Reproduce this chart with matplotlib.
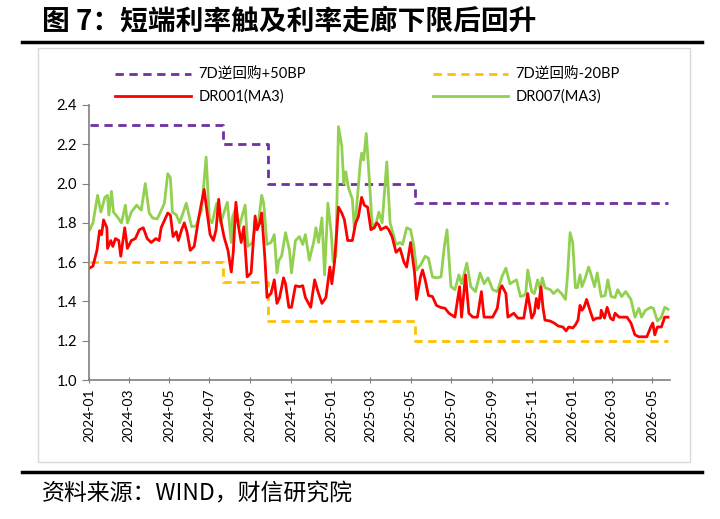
import matplotlib
matplotlib.use("Agg")
import matplotlib.pyplot as plt
import matplotlib.dates as mdates
from matplotlib.lines import Line2D
from matplotlib.patches import Rectangle
import pandas as pd

plt.rcParams['font.family'] = ['Lato', 'Noto Sans CJK SC', 'DejaVu Sans']

# policy corridor (7D reverse repo +50BP / -20BP), change dates
STEP_DATES = ["2024-01-02", "2024-07-22", "2024-09-27", "2025-05-08", "2026-05-25"]
UPPER = [2.30, 2.20, 2.00, 1.90, 1.90]
LOWER = [1.60, 1.50, 1.30, 1.20, 1.20]

# DR007 (MA3)
DR007_DATES = [
    "2024-01-02", "2024-01-07", "2024-01-14", "2024-01-19", "2024-01-25", "2024-01-29", "2024-01-31",
    "2024-02-04", "2024-02-07", "2024-02-13", "2024-02-19", "2024-02-25", "2024-02-28",
    "2024-03-05", "2024-03-13", "2024-03-17", "2024-03-20", "2024-03-26", "2024-04-01",
    "2024-04-06", "2024-04-13", "2024-04-18", "2024-04-24", "2024-04-29", "2024-05-03",
    "2024-05-06", "2024-05-12", "2024-05-17", "2024-05-20", "2024-05-27", "2024-05-30",
    "2024-06-04", "2024-06-11", "2024-06-19", "2024-06-26", "2024-07-01", "2024-07-05",
    "2024-07-12", "2024-07-18", "2024-07-28", "2024-08-03", "2024-08-05", "2024-08-10",
    "2024-08-15", "2024-08-19", "2024-08-24", "2024-08-28", "2024-09-04", "2024-09-09",
    "2024-09-12", "2024-09-18", "2024-09-21", "2024-09-26", "2024-10-02", "2024-10-07",
    "2024-10-11", "2024-10-14", "2024-10-18", "2024-10-24", "2024-10-30", "2024-11-02",
    "2024-11-08", "2024-11-14", "2024-11-19", "2024-11-23", "2024-11-29", "2024-12-06",
    "2024-12-09", "2024-12-13", "2024-12-18", "2024-12-22", "2024-12-27", "2025-01-01",
    "2025-01-04", "2025-01-08", "2025-01-12", "2025-01-17", "2025-01-20", "2025-01-23",
    "2025-01-27", "2025-02-02", "2025-02-05", "2025-02-08", "2025-02-14", "2025-02-16",
    "2025-02-19", "2025-02-23", "2025-03-01", "2025-03-04", "2025-03-10", "2025-03-14",
    "2025-03-19", "2025-03-26", "2025-03-31", "2025-04-03", "2025-04-09", "2025-04-15",
    "2025-04-19", "2025-04-25", "2025-05-01", "2025-05-06", "2025-05-10", "2025-05-16",
    "2025-05-23", "2025-05-28", "2025-06-03", "2025-06-09", "2025-06-16", "2025-06-21",
    "2025-06-25", "2025-07-01", "2025-07-07", "2025-07-13", "2025-07-17", "2025-07-25",
    "2025-07-31", "2025-08-07", "2025-08-14", "2025-08-20", "2025-08-26", "2025-09-02",
    "2025-09-09", "2025-09-16", "2025-09-22", "2025-09-28", "2025-10-08", "2025-10-14",
    "2025-10-19", "2025-10-22", "2025-10-25", "2025-10-31", "2025-11-04", "2025-11-09",
    "2025-11-13", "2025-11-16", "2025-11-20", "2025-11-28", "2025-12-03", "2025-12-09",
    "2025-12-15", "2025-12-21", "2025-12-24", "2025-12-28", "2026-01-01", "2026-01-05",
    "2026-01-08", "2026-01-12", "2026-01-15", "2026-01-19", "2026-01-25", "2026-01-28",
    "2026-02-03", "2026-02-07", "2026-02-13", "2026-02-19", "2026-02-23", "2026-02-28",
    "2026-03-06", "2026-03-10", "2026-03-16", "2026-03-22", "2026-03-30", "2026-04-05",
    "2026-04-11", "2026-04-15", "2026-04-21", "2026-04-29", "2026-05-03", "2026-05-09",
    "2026-05-15", "2026-05-20", "2026-05-25",
]
DR007 = [
    1.764, 1.80, 1.94, 1.855, 1.93, 1.94, 1.84,
    1.96, 1.855, 1.83, 1.80, 1.89, 1.80,
    1.855, 1.89, 1.875, 1.865, 2.00, 1.85,
    1.825, 1.82, 1.855, 1.90, 2.05, 2.03,
    1.855, 1.84, 1.80, 1.83, 1.90, 1.855,
    1.78, 1.785, 1.865, 2.135, 1.815, 1.80,
    1.90, 1.80, 1.905, 1.70, 1.83, 1.88,
    1.78, 1.83, 1.89, 1.68, 1.70, 1.80,
    1.775, 1.94, 1.90, 1.69, 1.70, 1.74,
    1.545, 1.61, 1.63, 1.75, 1.66, 1.545,
    1.71, 1.73, 1.69, 1.74, 1.61, 1.71,
    1.775, 1.70, 1.825, 1.535, 1.90, 1.75,
    1.60, 1.63, 2.29, 2.19, 2.00, 2.06,
    1.98, 1.92, 1.765, 1.865, 2.105, 2.155,
    2.12, 2.255, 1.95, 1.78, 1.80, 1.855,
    1.80, 2.11, 1.80, 1.765, 1.69, 1.70,
    1.69, 1.775, 1.765, 1.68, 1.56, 1.585,
    1.63, 1.62, 1.525, 1.52, 1.525, 1.68,
    1.765, 1.475, 1.46, 1.535, 1.49, 1.595,
    1.475, 1.45, 1.545, 1.49, 1.52, 1.46,
    1.45, 1.525, 1.57, 1.49, 1.51, 1.425,
    1.43, 1.44, 1.56, 1.45, 1.44, 1.51,
    1.46, 1.52, 1.47, 1.46, 1.44, 1.46,
    1.44, 1.41, 1.525, 1.75, 1.70, 1.47,
    1.47, 1.535, 1.475, 1.51, 1.575, 1.545,
    1.475, 1.545, 1.425, 1.43, 1.51, 1.425,
    1.42, 1.46, 1.425, 1.45, 1.41, 1.32,
    1.365, 1.32, 1.355, 1.37, 1.365, 1.30,
    1.32, 1.37, 1.36,
]

# DR001 (MA3)
DR001_DATES = [
    "2024-01-02", "2024-01-07", "2024-01-13", "2024-01-17", "2024-01-20", "2024-01-23", "2024-01-28",
    "2024-01-29", "2024-02-03", "2024-02-06", "2024-02-10", "2024-02-15", "2024-02-18",
    "2024-02-24", "2024-02-28", "2024-03-05", "2024-03-11", "2024-03-17", "2024-03-23",
    "2024-03-29", "2024-04-04", "2024-04-11", "2024-04-16", "2024-04-19", "2024-04-29",
    "2024-05-03", "2024-05-07", "2024-05-12", "2024-05-15", "2024-05-20", "2024-05-24",
    "2024-05-28", "2024-06-02", "2024-06-08", "2024-06-15", "2024-06-23", "2024-06-27",
    "2024-07-02", "2024-07-07", "2024-07-11", "2024-07-15", "2024-07-18", "2024-07-23",
    "2024-07-29", "2024-08-03", "2024-08-06", "2024-08-10", "2024-08-13", "2024-08-18",
    "2024-08-22", "2024-08-27", "2024-09-02", "2024-09-08", "2024-09-11", "2024-09-15",
    "2024-09-18", "2024-09-23", "2024-09-26", "2024-10-02", "2024-10-07", "2024-10-11",
    "2024-10-15", "2024-10-21", "2024-10-24", "2024-10-29", "2024-11-02", "2024-11-08",
    "2024-11-14", "2024-11-19", "2024-11-23", "2024-12-01", "2024-12-07", "2024-12-12",
    "2024-12-18", "2024-12-24", "2024-12-30", "2025-01-02", "2025-01-06", "2025-01-12",
    "2025-01-17", "2025-01-21", "2025-01-26", "2025-02-02", "2025-02-07", "2025-02-11",
    "2025-02-16", "2025-02-20", "2025-02-25", "2025-03-02", "2025-03-07", "2025-03-11",
    "2025-03-14", "2025-03-17", "2025-03-25", "2025-03-29", "2025-04-03", "2025-04-09",
    "2025-04-15", "2025-04-21", "2025-04-25", "2025-05-01", "2025-05-07", "2025-05-10",
    "2025-05-16", "2025-05-19", "2025-05-23", "2025-05-28", "2025-06-03", "2025-06-09",
    "2025-06-15", "2025-06-22", "2025-06-28", "2025-07-07", "2025-07-14", "2025-07-17",
    "2025-07-23", "2025-07-28", "2025-08-03", "2025-08-10", "2025-08-16", "2025-08-20",
    "2025-08-26", "2025-09-02", "2025-09-09", "2025-09-13", "2025-09-16", "2025-09-22",
    "2025-09-25", "2025-10-04", "2025-10-10", "2025-10-19", "2025-10-25", "2025-10-31",
    "2025-11-04", "2025-11-07", "2025-11-10", "2025-11-14", "2025-11-17", "2025-11-20",
    "2025-11-28", "2025-12-04", "2025-12-10", "2025-12-17", "2025-12-22", "2025-12-26",
    "2026-01-01", "2026-01-05", "2026-01-09", "2026-01-12", "2026-01-15", "2026-01-18",
    "2026-01-22", "2026-01-27", "2026-02-01", "2026-02-06", "2026-02-12", "2026-02-13",
    "2026-02-18", "2026-02-22", "2026-02-27", "2026-03-03", "2026-03-06", "2026-03-12",
    "2026-03-18", "2026-03-24", "2026-03-30", "2026-04-05", "2026-04-11", "2026-04-17",
    "2026-04-23", "2026-04-29", "2026-05-02", "2026-05-05", "2026-05-09", "2026-05-15",
    "2026-05-20", "2026-05-25",
]
DR001 = [
    1.57, 1.58, 1.66, 1.76, 1.74, 1.815, 1.775,
    1.67, 1.71, 1.68, 1.72, 1.71, 1.63,
    1.775, 1.67, 1.71, 1.72, 1.765, 1.775,
    1.72, 1.70, 1.72, 1.71, 1.775, 1.85,
    1.84, 1.73, 1.755, 1.71, 1.765, 1.80,
    1.755, 1.66, 1.68, 1.83, 1.97, 1.865,
    1.74, 1.71, 1.765, 1.92, 1.815, 1.73,
    1.66, 1.55, 1.65, 1.905, 1.80, 1.70,
    1.78, 1.525, 1.545, 1.835, 1.765, 1.80,
    1.85, 1.61, 1.42, 1.44, 1.51, 1.39,
    1.42, 1.52, 1.49, 1.37, 1.37, 1.48,
    1.475, 1.48, 1.42, 1.37, 1.51, 1.45,
    1.39, 1.42, 1.575, 1.49, 1.60, 1.88,
    1.85, 1.815, 1.71, 1.71, 1.80, 1.83,
    1.93, 1.89, 1.88, 1.765, 1.775, 1.80,
    1.79, 1.765, 1.78, 1.765, 1.73, 1.65,
    1.67, 1.60, 1.575, 1.70, 1.545, 1.41,
    1.525, 1.56, 1.51, 1.43, 1.425, 1.38,
    1.37, 1.365, 1.34, 1.32, 1.475, 1.32,
    1.535, 1.34, 1.32, 1.32, 1.45, 1.32,
    1.32, 1.32, 1.365, 1.46, 1.48, 1.44,
    1.32, 1.34, 1.315, 1.315, 1.44, 1.315,
    1.34, 1.415, 1.365, 1.475, 1.37, 1.305,
    1.30, 1.29, 1.275, 1.27, 1.25, 1.27,
    1.265, 1.28, 1.305, 1.38, 1.355, 1.37,
    1.41, 1.355, 1.305, 1.315, 1.315, 1.355,
    1.315, 1.37, 1.315, 1.305, 1.34, 1.32,
    1.32, 1.32, 1.29, 1.23, 1.22, 1.22,
    1.22, 1.27, 1.29, 1.23, 1.27, 1.27,
    1.32, 1.32,
]

TITLE = "图 7：短端利率触及利率走廊下限后回升"
SOURCE = "资料来源：WIND，财信研究院"

fig = plt.figure(figsize=(7.2, 5.19), dpi=100)
ax = fig.add_axes([89 / 720, 1 - 380 / 519, 581 / 720, 275 / 519])

steps = pd.to_datetime(STEP_DATES)
l_up, = ax.plot(steps, UPPER, drawstyle="steps-post", color="#7030A0", lw=2, ls=(0, (3, 2)))
l_lo, = ax.plot(steps, LOWER, drawstyle="steps-post", color="#FFC000", lw=2, ls=(0, (3, 2)))
l_007, = ax.plot(pd.to_datetime(DR007_DATES), DR007, color="#92D050", lw=2)
l_001, = ax.plot(pd.to_datetime(DR001_DATES), DR001, color="#FF0000", lw=2)

ax.set_ylim(1.0, 2.4)
ax.set_yticks([1.0, 1.2, 1.4, 1.6, 1.8, 2.0, 2.2, 2.4])
ax.yaxis.set_major_formatter(plt.FuncFormatter(lambda v, _: f"{v:.1f}"))
ax.set_xlim(pd.Timestamp("2024-01-01"), pd.Timestamp("2026-05-28"))
ax.xaxis.set_major_locator(mdates.MonthLocator(bymonth=[1, 3, 5, 7, 9, 11]))
ax.xaxis.set_major_formatter(mdates.DateFormatter("%Y-%m"))
ax.tick_params(axis="x", labelrotation=90, labelsize=10, length=5, color="#808080", direction="inout")
ax.tick_params(axis="y", labelsize=10.5, length=5, color="#808080")
for s in ("top", "right"):
    ax.spines[s].set_visible(False)
for s in ("left", "bottom"):
    ax.spines[s].set_color("#808080")
    ax.spines[s].set_linewidth(1.2)

fig.legend([l_up, l_001, l_lo, l_007],
           ["7D逆回购+50BP", "DR001(MA3)", "7D逆回购-20BP", "DR007(MA3)"],
           ncol=2, frameon=False, loc="upper left", bbox_to_anchor=(102 / 720, 1 - 55 / 519),
           handlelength=5.2, handletextpad=0.5, columnspacing=8.7, labelspacing=0.5, fontsize=10.5)

# frame, rules, title and source
fig.patches.append(Rectangle((38 / 720, 1 - 462 / 519), 652 / 720, 414 / 519,
                             transform=fig.transFigure, fill=False, edgecolor="#d9d9d9", lw=1))
fig.add_artist(Line2D([22 / 720, 702 / 720], [1 - 42 / 519] * 2, transform=fig.transFigure, color="black", lw=2.5))
fig.add_artist(Line2D([22 / 720, 702 / 720], [1 - 472 / 519] * 2, transform=fig.transFigure, color="black", lw=2.5))
fig.text(42 / 720, 1 - 22 / 519, TITLE, fontsize=20, fontweight="bold", va="center", ha="left",
         family=["Noto Sans CJK SC", "DejaVu Sans"])
fig.text(42 / 720, 1 - 494 / 519, SOURCE, fontsize=16.5, va="center", ha="left",
         family=["Noto Sans CJK SC", "DejaVu Sans"])

fig.savefig("out.png", dpi=100)
